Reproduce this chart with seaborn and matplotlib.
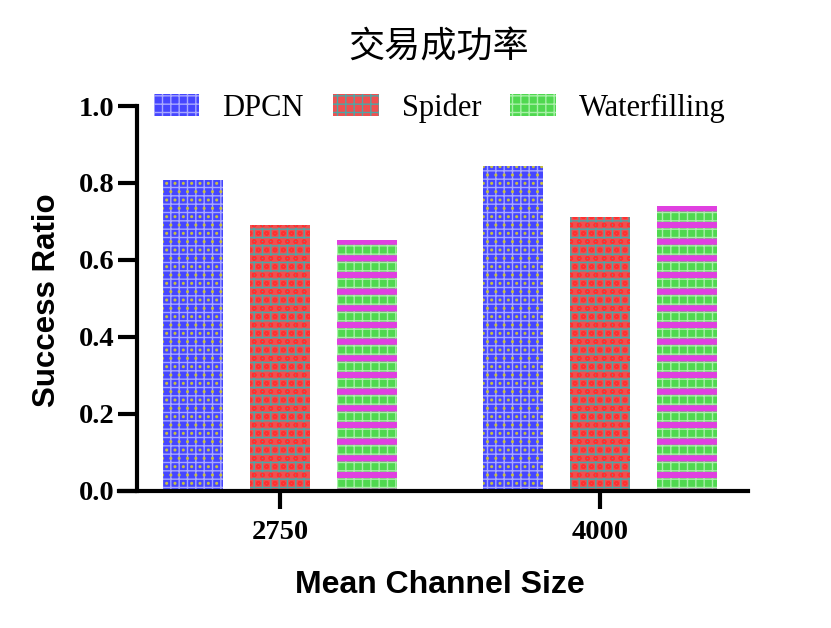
import matplotlib
matplotlib.use("Agg")
import matplotlib.pyplot as plt
from matplotlib.patches import Patch, Rectangle
import pandas as pd
import seaborn as sns

# values
sizes = ["2750", "4000"]
methods = ["DPCN", "Spider", "Waterfilling"]
dpcn = [0.808, 0.844]
spider = [0.690, 0.711]
waterfilling = [0.652, 0.740]

# face colour, hatch colour, hatch, overlay hatch colour, overlay hatch, overlay width
styles = {
    "DPCN": ("#4646ff", "#a8a8ff", "++", "#c8c040", "..", 1.0),
    "Spider": ("#f05050", "#4fa5a5", "++", "#ff3030", "oo", 1.0),
    "Waterfilling": ("#50d850", "#a8f0a8", "++", "#e040e0", "-", 4.5),
}

df = pd.DataFrame({
    "size": sizes * 3,
    "method": [m for m in methods for _ in sizes],
    "ratio": dpcn + spider + waterfilling,
})

sns.set_style("ticks")
plt.rcParams["font.family"] = ["Liberation Serif", "Noto Sans CJK SC", "DejaVu Sans"]
plt.rcParams["hatch.linewidth"] = 1.0
for key in ["text.color", "axes.labelcolor", "xtick.color", "ytick.color", "axes.edgecolor"]:
    plt.rcParams[key] = "black"

fig = plt.figure(figsize=(8.31, 6.28), dpi=100)
ax = fig.add_axes([0.1432, 0.2182, 0.7569, 0.613])

sns.barplot(data=df, x="size", y="ratio", hue="method", order=sizes,
            hue_order=methods, palette=[styles[m][0] for m in methods],
            width=0.816, gap=0.32, errorbar=None, legend=False, ax=ax)


def add_overlay(ax, rect, color, hatch, lw):
    ov = Rectangle(rect.get_xy(), rect.get_width(), rect.get_height(),
                   facecolor="none", edgecolor=color, hatch=hatch, linewidth=0)
    if hasattr(ov, "set_hatch_linewidth"):
        ov.set_hatch_linewidth(lw)
    ax.add_patch(ov)


for cont, m in zip(ax.containers, methods):
    face, hcol, hatch, ocol, ohatch, olw = styles[m]
    for bar in cont:
        bar.set_facecolor(face)
        bar.set_edgecolor(hcol)
        bar.set_hatch(hatch)
        bar.set_linewidth(0)
        add_overlay(ax, bar, ocol, ohatch, olw)

ax.set_xlim(-0.503, 1.4625)
ax.set_ylim(0, 1.0)
ax.set_yticks([0.0, 0.2, 0.4, 0.6, 0.8, 1.0])
ax.set_yticklabels(["0.0", "0.2", "0.4", "0.6", "0.8", "1.0"])

sns.despine(ax=ax)
ax.spines["left"].set_position(("data", -0.447))
ax.spines["left"].set_bounds(0, 1.0)
ax.spines["left"].set_linewidth(3)
ax.spines["bottom"].set_linewidth(3)
ax.tick_params(axis="y", length=14, width=3, pad=2, labelsize=20.5)
ax.tick_params(axis="x", length=13, width=3, pad=8, labelsize=20.5)
for lab in ax.get_xticklabels() + ax.get_yticklabels():
    lab.set_fontweight("bold")
    lab.set_family("Liberation Serif")

ax.set_xlabel("Mean Channel Size", family="Liberation Sans", fontweight="bold", fontsize=23)
ax.set_ylabel("Success Ratio", family="Liberation Sans", fontweight="bold", fontsize=22.5)
ax.xaxis.set_label_coords(0.51, -0.205)
ax.yaxis.set_label_coords(-0.09, 0.496)

fig.text(0.528, 0.925, "交易成功率", family=["Noto Sans CJK SC", "DejaVu Sans"],
         fontsize=26, ha="center", va="center")

handles = []
for m in methods:
    face, hcol, hatch, ocol, ohatch, olw = styles[m]
    handles.append(Patch(facecolor=face, edgecolor=hcol, hatch=hatch, linewidth=0))
leg = fig.legend(handles, methods, ncol=3, frameon=False, loc="center",
                 bbox_to_anchor=(0.529, 0.828),
                 handlelength=1.5, handleheight=0.7, handletextpad=0.75,
                 columnspacing=0.95, prop={"family": "Liberation Serif", "size": 22})

fig.savefig("out.png", dpi=100)
